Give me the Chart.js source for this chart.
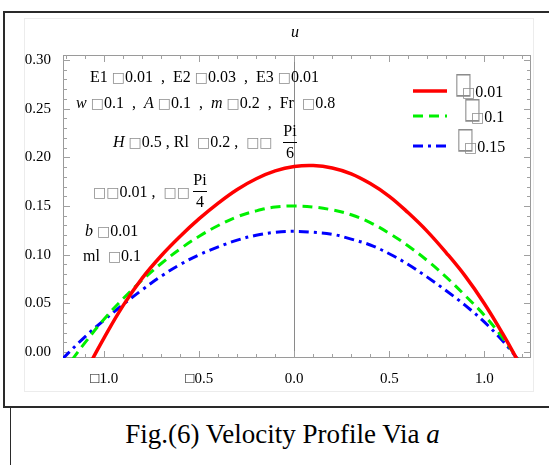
<!DOCTYPE html>
<html>
<head>
<meta charset="utf-8">
<script src="https://cdn.jsdelivr.net/npm/chart.js@4.4.0/dist/chart.umd.min.js"></script>
<style>
  html, body { margin: 0; padding: 0; background: #fff; width: 549px; height: 465px; overflow: hidden; }
  #outer { position: absolute; left: 3px; top: 11px; width: 600px; height: 397px; border: 2px solid #2a2a2a; box-sizing: border-box; }
  #capbox { position: absolute; left: 10px; top: 407px; width: 600px; height: 70px; border-left: 1.5px solid #2a2a2a; }
  #caption { position: absolute; left: 10px; top: 419px; width: 545px; text-align: center;
             font-family: "Liberation Serif", serif; font-size: 27px; color: #000; }
  #caption i { font-style: italic; }
  #wrap { position: absolute; left: 0; top: 0; width: 549px; height: 405px; }
</style>
</head>
<body>
<div id="outer"></div>
<div id="capbox"></div>
<div id="caption">Fig.(6) Velocity Profile Via <i>a</i></div>
<div id="wrap"><canvas id="velocity-chart" width="549" height="405"></canvas></div>
<script>
// Velocity profiles u(x), one curve per alpha value
const xRed = [-1.07, -1.0, -0.9, -0.8, -0.7, -0.6, -0.5, -0.4, -0.3, -0.2, -0.1, 0, 0.1, 0.2, 0.3, 0.4, 0.5, 0.6, 0.7, 0.8, 0.9, 1.0, 1.1, 1.18];
const uRed = [-0.010, 0.015, 0.048, 0.076, 0.099, 0.119, 0.137, 0.153, 0.167, 0.178, 0.186, 0.1905, 0.1915, 0.189, 0.183, 0.173, 0.160, 0.143, 0.124, 0.102, 0.078, 0.050, 0.018, -0.010];

const xGreen = [-1.17, -1.1, -1.0, -0.9, -0.8, -0.7, -0.6, -0.5, -0.4, -0.3, -0.2, -0.1, 0, 0.1, 0.2, 0.3, 0.4, 0.5, 0.6, 0.7, 0.8, 0.9, 1.0, 1.1, 1.18];
const uGreen = [-0.008, 0.010, 0.034, 0.055, 0.074, 0.091, 0.106, 0.119, 0.130, 0.139, 0.145, 0.149, 0.150, 0.149, 0.146, 0.141, 0.133, 0.122, 0.109, 0.094, 0.077, 0.058, 0.038, 0.014, -0.008];

const xBlue = [-1.22, -1.2, -1.1, -1.0, -0.9, -0.8, -0.7, -0.6, -0.5, -0.4, -0.3, -0.2, -0.1, 0, 0.1, 0.2, 0.3, 0.4, 0.5, 0.6, 0.7, 0.8, 0.9, 1.0, 1.1, 1.18];
const uBlue = [-0.007, -0.003, 0.016, 0.033, 0.049, 0.064, 0.078, 0.090, 0.100, 0.108, 0.115, 0.120, 0.123, 0.124, 0.123, 0.121, 0.116, 0.110, 0.101, 0.090, 0.077, 0.063, 0.048, 0.031, 0.011, -0.008];

const alphaLabels = ['0.01', '0.1', '0.15'];

const xTickValues = [-1.0, -0.5, 0.0, 0.5, 1.0];
const xTickLabels = ['\u25A11.0', '\u25A10.5', '0.0', '0.5', '1.0'];
const yTickValues = [0.00, 0.05, 0.10, 0.15, 0.20, 0.25, 0.30];
const yTickLabels = ['0.00', '0.05', '0.10', '0.15', '0.20', '0.25', '0.30'];

const BOX = '\u25A1';

function toPoints(xs, ys) {
    return xs.map((x, i) => ({ x: x, y: ys[i] }));
}

// draws a row of text pieces: n = normal, i = italic, b = grey placeholder box
function drawRuns(ctx, x, y, runs) {
    runs.forEach(([txt, kind]) => {
        if (kind === 'b') {
            ctx.font = '14px "DejaVu Sans"';
            ctx.fillStyle = '#8c8c8c';
        } else if (kind === 'i') {
            ctx.font = 'italic 16px "Liberation Serif"';
            ctx.fillStyle = '#000';
        } else {
            ctx.font = '16px "Liberation Serif"';
            ctx.fillStyle = '#000';
        }
        ctx.fillText(txt, x, y);
        x += ctx.measureText(txt).width;
    });
    return x;
}

function drawFraction(ctx, cx, barY, top, bottom) {
    ctx.font = '16px "Liberation Serif"';
    ctx.fillStyle = '#000';
    ctx.textAlign = 'center';
    ctx.fillText(top, cx, barY - 10);
    ctx.fillText(bottom, cx, barY + 12);
    ctx.textAlign = 'left';
    ctx.strokeStyle = '#000';
    ctx.lineWidth = 1;
    ctx.beginPath();
    ctx.moveTo(cx - 7, barY + 0.5);
    ctx.lineTo(cx + 7, barY + 0.5);
    ctx.stroke();
}

const framePlugin = {
    id: 'mathematicaFrame',
    beforeDatasetsDraw(chart) {
        const ctx = chart.ctx;
        const a = chart.chartArea;
        const xs = chart.scales.x;
        const ys = chart.scales.y;
        ctx.save();
        // faint image border
        ctx.strokeStyle = '#ececec';
        ctx.lineWidth = 1;
        ctx.strokeRect(24.5, 18.5, 509, 373);
        // frame
        ctx.strokeStyle = '#9a9a9a';
        ctx.strokeRect(a.left + 0.5, a.top + 0.5, a.right - a.left - 1, a.bottom - a.top - 1);
        // vertical axis at x = 0
        const x0 = Math.round(xs.getPixelForValue(0)) + 0.5;
        ctx.strokeStyle = '#8a8a8a';
        ctx.beginPath();
        ctx.moveTo(x0, a.top);
        ctx.lineTo(x0, a.bottom);
        ctx.stroke();
        // ticks
        ctx.strokeStyle = '#a0a0a0';
        ctx.beginPath();
        for (let i = 0; i <= 30; i++) {
            const py = Math.round(ys.getPixelForValue(i / 100)) + 0.5;
            const len = i % 5 === 0 ? 7 : 4;
            ctx.moveTo(a.left, py); ctx.lineTo(a.left + len, py);
            ctx.moveTo(a.right, py); ctx.lineTo(a.right - len, py);
        }
        for (let i = -12; i <= 12; i++) {
            const px = Math.round(xs.getPixelForValue(i / 10)) + 0.5;
            const len = i % 5 === 0 ? 7 : 4;
            ctx.moveTo(px, a.bottom); ctx.lineTo(px, a.bottom - len);
            ctx.moveTo(px, a.top); ctx.lineTo(px, a.top + len);
        }
        ctx.stroke();
        ctx.restore();
    },
    afterDraw(chart) {
        const ctx = chart.ctx;
        ctx.save();
        ctx.textBaseline = 'middle';
        ctx.textAlign = 'left';

        // axis label
        ctx.font = 'italic 16px "Liberation Serif"';
        ctx.fillStyle = '#000';
        ctx.textAlign = 'center';
        ctx.fillText('u', 295, 33);
        ctx.textAlign = 'left';

        // parameter annotations
        drawRuns(ctx, 90, 78, [['E1 ', 'n'], [BOX, 'b'], ['0.01  ,  E2 ', 'n'], [BOX, 'b'], ['0.03  ,  E3 ', 'n'], [BOX, 'b'], ['0.01', 'n']]);
        drawRuns(ctx, 76, 104, [['w', 'i'], [' ', 'n'], [BOX, 'b'], ['0.1  ,  ', 'n'], ['A', 'i'], [' ', 'n'], [BOX, 'b'], ['0.1  ,  ', 'n'], ['m', 'i'], [' ', 'n'], [BOX, 'b'], ['0.2  ,  Fr  ', 'n'], [BOX, 'b'], ['0.8', 'n']]);
        drawRuns(ctx, 113, 143, [['H', 'i'], [' ', 'n'], [BOX, 'b'], ['0.5 , Rl  ', 'n'], [BOX, 'b'], ['0.2 ,  ', 'n'], [BOX + BOX, 'b']]);
        drawFraction(ctx, 290, 142, 'Pi', '6');
        drawRuns(ctx, 93, 193, [[BOX + BOX, 'b'], ['0.01 ,  ', 'n'], [BOX + BOX, 'b']]);
        drawFraction(ctx, 200, 191, 'Pi', '4');
        drawRuns(ctx, 85, 232, [['b', 'i'], [' ', 'n'], [BOX, 'b'], ['0.01', 'n']]);
        drawRuns(ctx, 83, 257, [['ml  ', 'n'], [BOX, 'b'], ['0.1', 'n']]);

        // legend
        const rowY = [91, 116, 146];
        const boxX = [457, 466, 459];
        chart.data.datasets.forEach((ds, i) => {
            ctx.strokeStyle = ds.borderColor;
            ctx.lineWidth = ds.borderWidth;
            ctx.setLineDash(ds.borderDash || []);
            ctx.beginPath();
            ctx.moveTo(413, rowY[i]);
            ctx.lineTo(447, rowY[i]);
            ctx.stroke();
            ctx.setLineDash([]);
            // large placeholder glyph for the missing alpha symbol
            ctx.save();
            ctx.translate(boxX[i], rowY[i] - 6);
            ctx.scale(0.62, 1);
            ctx.font = '30px "DejaVu Sans"';
            ctx.fillStyle = '#8c8c8c';
            ctx.fillText(BOX, -4, 0);
            ctx.restore();
            drawRuns(ctx, boxX[i] + 5, rowY[i] + 2, [[BOX, 'b'], [alphaLabels[i], 'n']]);
        });
        ctx.restore();
    }
};

const chartCanvas = document.getElementById('velocity-chart');
const chartContext = chartCanvas.getContext('2d');

window.velocityChart = new Chart(chartContext, {
    type: 'line',
    data: {
        datasets: [{
            label: alphaLabels[0],
            data: toPoints(xRed, uRed),
            borderColor: '#ff0000',
            borderWidth: 3.5,
            pointRadius: 0,
            tension: 0.4
        }, {
            label: alphaLabels[1],
            data: toPoints(xGreen, uGreen),
            borderColor: '#00f000',
            borderWidth: 3,
            borderDash: [10, 6],
            pointRadius: 0,
            tension: 0.4
        }, {
            label: alphaLabels[2],
            data: toPoints(xBlue, uBlue),
            borderColor: '#0000ff',
            borderWidth: 3,
            borderDash: [10, 5, 3, 5],
            pointRadius: 0,
            tension: 0.4
        }]
    },
    options: {
        responsive: false,
        animation: false,
        layout: {
            padding: { left: 0, top: 55, right: 18, bottom: 0 }
        },
        plugins: {
            legend: { display: false },
            tooltip: { enabled: false }
        },
        scales: {
            x: {
                type: 'linear',
                min: -1.217,
                max: 1.246,
                grid: { display: false, drawTicks: false },
                border: { display: false },
                afterBuildTicks: (axis) => { axis.ticks = xTickValues.map(v => ({ value: v })); },
                afterFit: (axis) => { axis.height = 47; },
                ticks: {
                    padding: 12,
                    color: '#000',
                    font: { family: 'Liberation Serif', size: 15 },
                    maxRotation: 0,
                    callback: (value) => xTickLabels[xTickValues.indexOf(value)]
                }
            },
            y: {
                min: -0.006,
                max: 0.305,
                grid: { display: false, drawTicks: false },
                border: { display: false },
                afterBuildTicks: (axis) => { axis.ticks = yTickValues.map(v => ({ value: v })); },
                afterFit: (axis) => { axis.width = 63; },
                ticks: {
                    padding: 12,
                    color: '#000',
                    font: { family: 'Liberation Serif', size: 15 },
                    callback: (value) => yTickLabels[yTickValues.indexOf(value)]
                }
            }
        }
    },
    plugins: [framePlugin]
});
</script>
</body>
</html>
